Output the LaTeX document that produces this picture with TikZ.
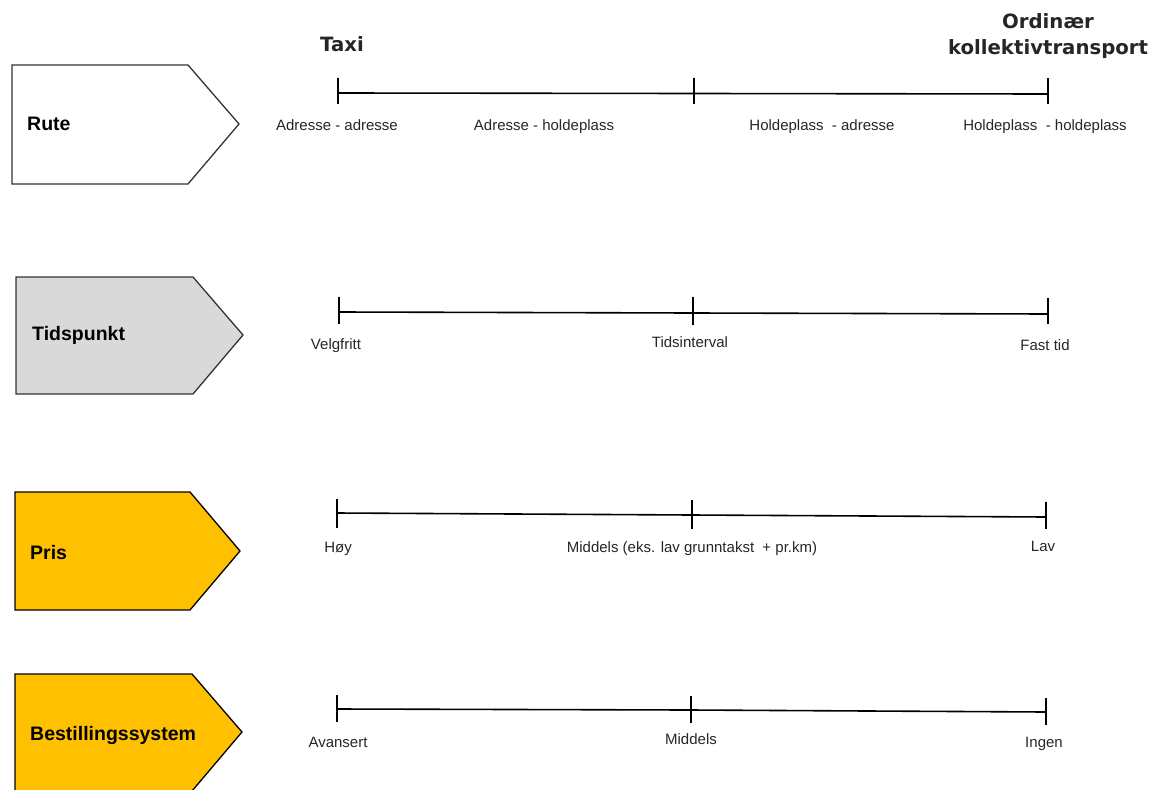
\documentclass[tikz,border=0pt]{standalone}
\usepackage{fontspec}
\setmainfont{Liberation Sans}
\newfontfamily\headfont{DejaVu Sans}
\usepackage{tikz}

\definecolor{prisgul}{HTML}{FFC000}
\definecolor{tidgraa}{HTML}{D9D9D9}

\tikzset{
 pil/.style={line width=1.3pt, draw=black!80, line join=miter},
 catlbl/.style={font=\fontsize{19.5}{22}\selectfont\bfseries, anchor=base west, inner sep=0pt},
 lbl/.style={font=\fontsize{15}{17}\selectfont, anchor=base, inner sep=0pt, text=black!85},
 hdr/.style={font=\headfont\bfseries\fontsize{19.7}{26}\selectfont, align=center, anchor=base, inner sep=0pt, text=black!85},
 skala/.style={line width=1.6pt},
}

\begin{document}
\begin{tikzpicture}[x=1pt,y=-1pt]
 \useasboundingbox (0,0) rectangle (1155,789);

 % headings
 \node[hdr] (taxi) at (342,52) {Taxi};
 \node[hdr] (kollektiv) at (1048,55) {Ordinær\\kollektivtransport};

 % Rute
 \draw[pil] (12,65) -- (188,65) -- (239,124) -- (188,184) -- (12,184) -- cycle;
 \node[catlbl] (rute) at (27,130) {Rute};
 \coordinate (r1) at (338,93);
 \coordinate (r2) at (694,93.5);
 \coordinate (r3) at (1048,94);
 \draw[skala] (r1) -- (r2) -- (r3);
 \draw[skala] ([yshift=15]r1) -- ([yshift=-11]r1);
 \draw[skala] ([yshift=15]r2) -- ([yshift=-11]r2);
 \draw[skala] ([yshift=16]r3) -- ([yshift=-10]r3);
 \node[lbl] (aa) at (337,130) {Adresse - adresse};
 \node[lbl] (ah) at (544,130) {Adresse - holdeplass};
 \node[lbl] (ha) at (822,130) {Holdeplass\ \ - adresse};
 \node[lbl] (hh) at (1045,130) {Holdeplass\ \ - holdeplass};

 % Tidspunkt
 \draw[pil, fill=tidgraa] (16,277) -- (193,277) -- (243,335) -- (193,394) -- (16,394) -- cycle;
 \node[catlbl] (tid) at (32,340) {Tidspunkt};
 \coordinate (t1) at (339,312);
 \coordinate (t2) at (693,313);
 \coordinate (t3) at (1048,314);
 \draw[skala] (t1) -- (t2) -- (t3);
 \draw[skala] ([yshift=15]t1) -- ([yshift=-12]t1);
 \draw[skala] ([yshift=16]t2) -- ([yshift=-12]t2);
 \draw[skala] ([yshift=16]t3) -- ([yshift=-10]t3);
 \node[lbl] (velg) at (336,349) {Velgfritt};
 \node[lbl] (intervall) at (690,347) {Tidsinterval};
 \node[lbl] (fast) at (1045,350) {Fast tid};

 % Pris
 \draw[pil, draw=black, fill=prisgul] (15,492) -- (190,492) -- (240,551) -- (190,610) -- (15,610) -- cycle;
 \node[catlbl] (pris) at (30,559) {Pris};
 \coordinate (p1) at (337,513);
 \coordinate (p2) at (692,515);
 \coordinate (p3) at (1046,517);
 \draw[skala] (p1) -- (p2) -- (p3);
 \draw[skala] ([yshift=14]p1) -- ([yshift=-15]p1);
 \draw[skala] ([yshift=15]p2) -- ([yshift=-14]p2);
 \draw[skala] ([yshift=15]p3) -- ([yshift=-12]p3);
 \node[lbl] (hoy) at (338,552) {Høy};
 \node[lbl] (middels) at (692,552) {Middels (eks. lav grunntakst\ \ +\ pr.km)};
 \node[lbl] (lav) at (1043,551) {Lav};

 % Bestillingssystem
 \draw[pil, draw=black, fill=prisgul] (15,674) -- (192,674) -- (242,732) -- (192,791) -- (15,791) -- cycle;
 \node[catlbl] (best) at (30,740) {Bestillingssystem};
 \coordinate (b1) at (337,709);
 \coordinate (b2) at (691,710);
 \coordinate (b3) at (1046,712);
 \draw[skala] (b1) -- (b2) -- (b3);
 \draw[skala] ([yshift=14]b1) -- ([yshift=-13]b1);
 \draw[skala] ([yshift=14]b2) -- ([yshift=-13]b2);
 \draw[skala] ([yshift=14]b3) -- ([yshift=-13]b3);
 \node[lbl] (avansert) at (338,747) {Avansert};
 \node[lbl] (bmiddels) at (691,744) {Middels};
 \node[lbl] (ingen) at (1044,747) {Ingen};
\end{tikzpicture}
\end{document}
